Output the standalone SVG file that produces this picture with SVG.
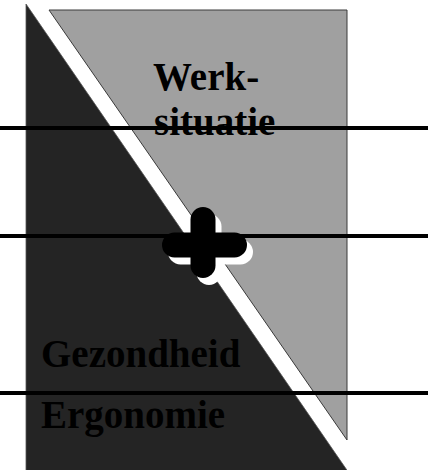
<svg xmlns="http://www.w3.org/2000/svg" width="435" height="470" viewBox="0 0 435 470">
<style>
.lbl{font-family:"Liberation Serif","Times New Roman",serif;font-weight:bold;font-size:39px;fill:#000}
.hl{stroke:#000;stroke-width:4;fill:none}
.plus{stroke-width:25;stroke-linecap:round;fill:none}
</style>
<rect width="435" height="470" fill="#fff"/>
<g id="werksituatie">
<polygon points="49,10 347,10 347,440" fill="#a0a0a0" stroke="#3a3a3a" stroke-width="1"/>
<text class="lbl" x="153" y="90">Werk-</text>
<text class="lbl" x="154" y="135">situatie</text>
</g>
<g id="gezondheid">
<polygon points="26,4 351,476 26,476" fill="#242424" stroke="#555" stroke-width="0.8"/>
<text class="lbl" x="41" y="367">Gezondheid</text>
<text class="lbl" x="41" y="428">Ergonomie</text>
</g>
<g id="plus">
<g class="plus" stroke="#fff" transform="translate(6,7)">
<line x1="203" y1="219.5" x2="203" y2="265.5"/>
<line x1="174.5" y1="245" x2="234.5" y2="245"/>
</g>
<g class="plus" stroke="#000">
<line x1="203" y1="219.5" x2="203" y2="265.5"/>
<line x1="174.5" y1="245" x2="234.5" y2="245"/>
</g>
</g>
<g id="connectors">
<line class="hl" x1="0" y1="128" x2="428" y2="128"/>
<line class="hl" x1="0" y1="236" x2="428" y2="236"/>
<line class="hl" x1="0" y1="393" x2="428" y2="393"/>
</g>
</svg>
